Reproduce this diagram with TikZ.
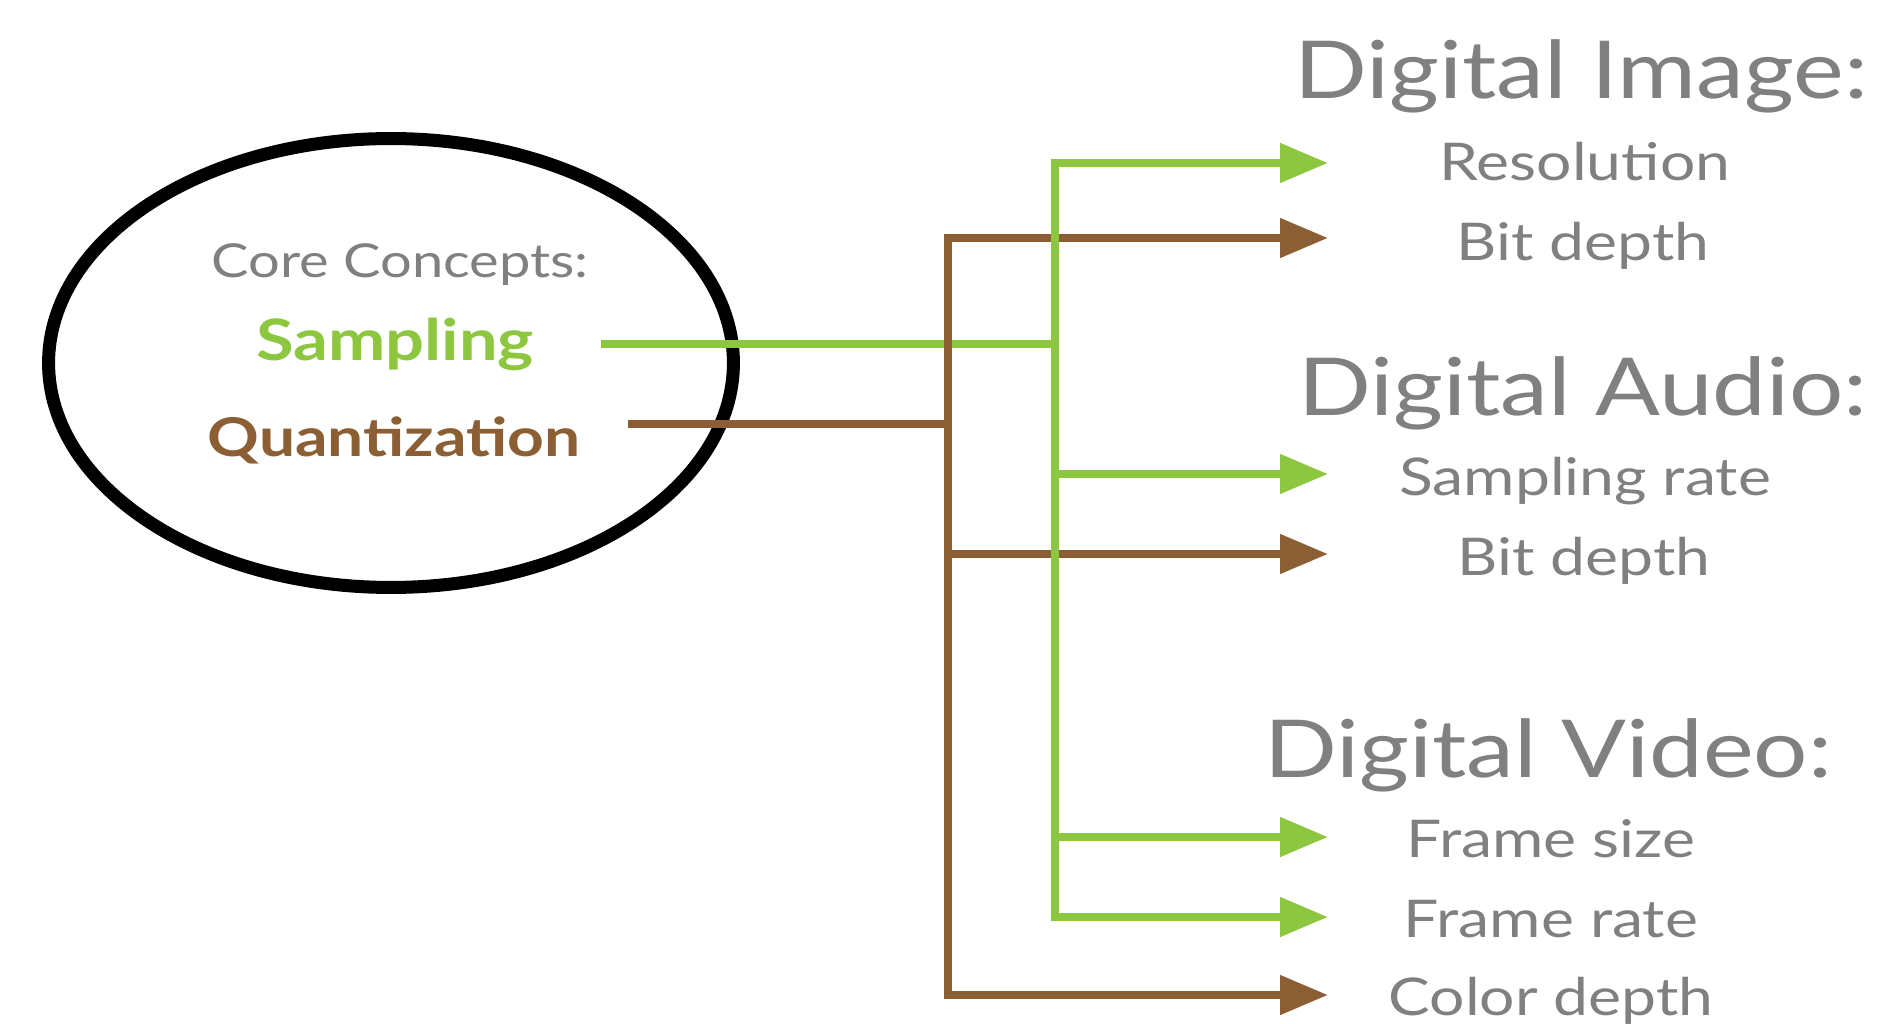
\documentclass[tikz,border=0pt]{standalone}
\usepackage{fontspec}
\setmainfont{Lato}[FakeStretch=1.2]
\usetikzlibrary{arrows.meta,shapes.geometric}
\definecolor{sampGreen}{HTML}{8DC63F}
\definecolor{quantBrown}{HTML}{8B5E34}
\definecolor{labelGray}{HTML}{808080}
\begin{document}
\begin{tikzpicture}[x=0.02cm,y=-0.02cm]
        \tikzstyle{headLabel}=[text=labelGray,font=\fontsize{45.5}{54}\selectfont,anchor=base,inner sep=0pt]
        \tikzstyle{itemLabel}=[text=labelGray,font=\fontsize{29.6}{36}\selectfont,anchor=base,inner sep=0pt]
        \tikzstyle{sampLine}=[sampGreen,line width=4.5pt]
        \tikzstyle{quantLine}=[quantBrown,line width=4.5pt]
        \tikzstyle{toItem}=[-{Triangle[length=0.96cm,width=0.76cm]}]
        \tikzstyle{bothItems}=[{Triangle[length=0.96cm,width=0.76cm]}-{Triangle[length=0.96cm,width=0.76cm]}]
    \useasboundingbox (0,0) rectangle (1880,1024);

    \node[draw,ellipse,line width=7.4pt,minimum width=13.7cm,minimum height=8.98cm] (core) at (391,363) {};
    \node[itemLabel,font=\fontsize{26.6}{32}\selectfont] (coreTitle) at (400,277) {Core Concepts:};
    \node[itemLabel,text=sampGreen,font=\bfseries\fontsize{32.5}{38}\selectfont] (samp) at (395,360) {Sampling};
    \node[itemLabel,text=quantBrown,font=\bfseries\fontsize{30.4}{36}\selectfont] (quant) at (394,456) {Quantization};

    \node[headLabel] (imgHead) at (1581,99) {Digital Image:};
    \node[itemLabel] (res) at (1585,180) {Resolution};
    \node[itemLabel] (imgBit) at (1583,260) {Bit depth};
    \node[headLabel] (audHead) at (1583,415) {Digital Audio:};
    \node[itemLabel] (rate) at (1585,495) {Sampling rate};
    \node[itemLabel] (audBit) at (1584,575) {Bit depth};
    \node[headLabel] (vidHead) at (1548,777) {Digital Video:};
    \node[itemLabel] (fsize) at (1551,857) {Frame size};
    \node[itemLabel] (frate) at (1551,937) {Frame rate};
    \node[itemLabel] (cdepth) at (1551,1015) {Color depth};

    \coordinate (sampOut) at (601,344);
    \coordinate (sampJoin) at (1055,344);
    \coordinate (quantOut) at (628,424);
    \coordinate (quantJoin) at (948,424);
    \coordinate (gTop) at (1055,163);
    \coordinate (gBot) at (1055,917);
    \coordinate (bTop) at (948,238);
    \coordinate (bBot) at (948,995);
    \coordinate (resTip) at (1328,163);
    \coordinate (imgBitTip) at (1328,238);
    \coordinate (rateTip) at (1328,474);
    \coordinate (audBitTip) at (1328,554);
    \coordinate (sizeTip) at (1328,837);
    \coordinate (frateTip) at (1328,917);
    \coordinate (colTip) at (1328,995);

    \draw[sampLine] (sampOut) -- (sampJoin);
    \draw[quantLine] (quantOut) -- (quantJoin);

    \draw[quantLine,bothItems] (imgBitTip) -- (bTop) -- (bBot) -- (colTip);
    \draw[quantLine,toItem] (bTop |- audBitTip) -- (audBitTip);

    \draw[sampLine,bothItems] (resTip) -- (gTop) -- (gBot) -- (frateTip);
    \draw[sampLine,toItem] (gTop |- rateTip) -- (rateTip);
    \draw[sampLine,toItem] (gTop |- sizeTip) -- (sizeTip);
    \end{tikzpicture}
\end{document}
